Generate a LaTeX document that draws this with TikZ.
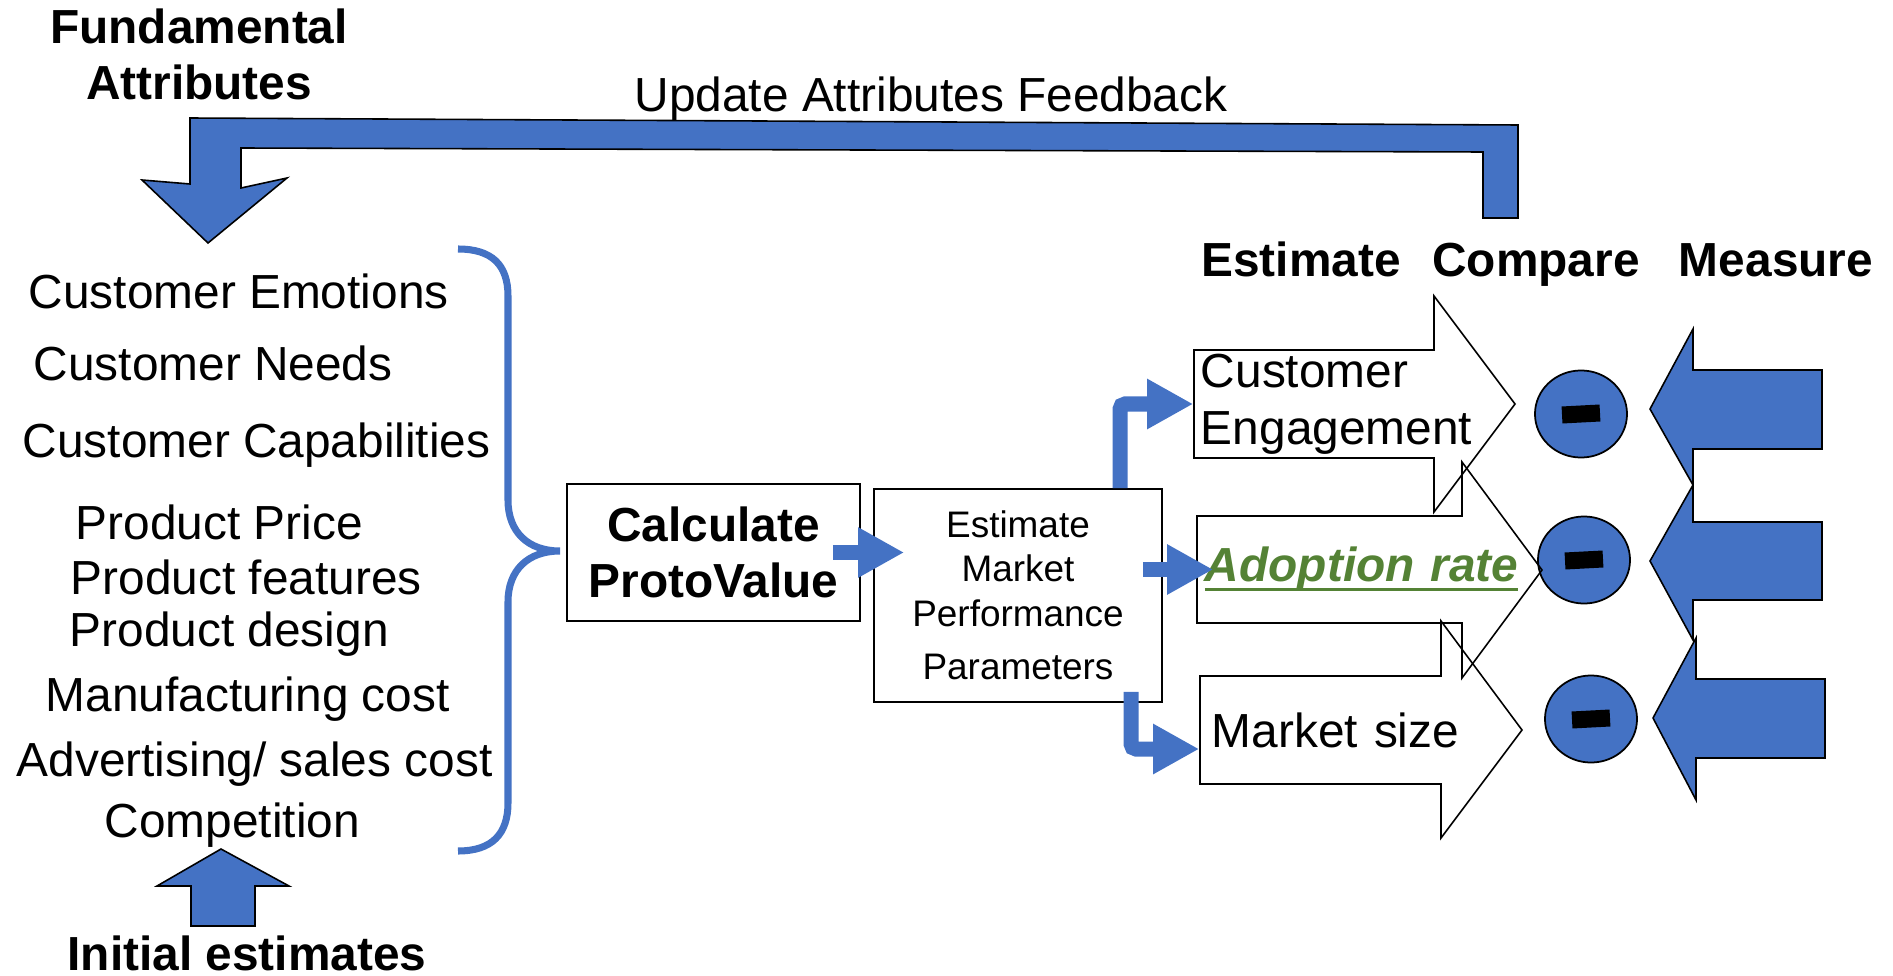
\documentclass[tikz,border=0pt]{standalone}
\usepackage{fontspec}
\setmainfont{Liberation Sans}
\usepackage{tikz}
\usetikzlibrary{arrows.meta, shapes.geometric, positioning}
\definecolor{officeblue}{HTML}{4472C4}
\definecolor{adoptgreen}{HTML}{548235}
\newcommand{\ulinetext}[1]{\setbox0\hbox{#1}\rlap{\rule[-0.09cm]{\wd0}{0.9pt}}\box0}
\tikzset{
  lbl/.style={inner sep=0pt, font=\fontsize{13.6}{16}\selectfont},
  attr/.style={lbl, anchor=base west},
  hdr/.style={lbl, anchor=base, font=\fontsize{13.6}{16}\selectfont\bfseries},
  box/.style={draw, line width=0.45pt, align=center, inner sep=0pt},
  body/.style={inner ysep=0pt, align=left, font=\fontsize{13.6}{16.2}\selectfont},
  outline/.style={draw, line width=0.45pt},
  bluearrow/.style={fill=officeblue, draw=black, line width=0.45pt},
  conn/.style={draw=officeblue, line width=0.15cm, rounded corners=0.05cm, -{Triangle[length=0.46cm, width=0.47cm]}},
  brace/.style={draw=officeblue, line width=2pt},
  cmp/.style={ellipse, draw, fill=officeblue, line width=0.5pt, minimum width=0.92cm, minimum height=0.87cm},
  minus/.style={fill=black, inner sep=0pt, minimum width=0.38cm, minimum height=0.17cm, rotate=3}
}
\begin{document}
\begin{tikzpicture}[x=0.01cm, y=-0.01cm]
                        \useasboundingbox (0,0) rectangle (1893,976);
                        \node[hdr] (fund) at (199, 44) {Fundamental};
                        \node[hdr] (attrs) at (199, 100) {Attributes};
                        \node[lbl, anchor=base] (upd) at (931, 112) {Update Attributes Feedback};
                        \draw[bluearrow] (190,118) -- (1518,125) -- (1518,218) -- (1483,218) -- (1483,152) -- (241,148) -- (241,188) -- (287,178) -- (208,243) -- (142,180) -- (190,184) -- cycle;
                        \node[attr] (emo) at (28, 308) {Customer Emotions};
                        \node[attr] (needs) at (33, 380) {Customer Needs};
                        \node[attr] (capab) at (22, 458) {Customer Capabilities};
                        \node[attr] (price) at (75, 539) {Product Price};
                        \node[attr] (feat) at (70, 594) {Product features};
                        \node[attr] (design) at (69, 646) {Product design};
                        \node[attr] (manuf) at (45, 711) {Manufacturing cost};
                        \node[attr] (adv) at (16, 776) {Advertising/ sales cost};
                        \node[attr] (compet) at (104, 837) {Competition};
                        \draw[brace] (458,249) .. controls (492,249) and (508,265) .. (508,296) -- (508,500) .. controls (508,532) and (528,551) .. (560,551) .. controls (528,551) and (508,570) .. (508,602) -- (508,803) .. controls (508,834) and (492,851) .. (458,851);
                        \draw[bluearrow] (221,849) -- (289,886) -- (255,886) -- (255,926) -- (191,926) -- (191,886) -- (157,886) -- cycle;
                        \node[hdr] (init) at (247, 970) {Initial estimates};
                        \node[box, minimum width=2.93cm, minimum height=1.37cm, font=\fontsize{13.6}{15.9}\selectfont\bfseries] (calc) at (713.5, 552.5) {Calculate\\ProtoValue};
                        \node[box, minimum width=2.88cm, minimum height=2.13cm, font=\fontsize{10.5}{12.66}\selectfont] (est) at (1018, 595.5) {Estimate\\Market\\Performance\\[0.09cm]Parameters};
                        \node[hdr] (esth) at (1301, 277) {Estimate};
                        \node[hdr] (cmph) at (1536, 277) {Compare};
                        \node[hdr] (meash) at (1776, 277) {Measure};
                        \node[cmp] (cmp1) at (1581, 414) {};
                        \node[cmp] (cmp2) at (1584, 560) {};
                        \node[cmp] (cmp3) at (1591, 719) {};
                        \node[minus] (bar1) at (cmp1) {};
                        \node[minus] (bar2) at (cmp2) {};
                        \node[minus] (bar3) at (cmp3) {};
                        \node[body, inner xsep=0.07cm, text width=2.25cm, minimum height=1.08cm] (engage) at (1313.5, 404) {Customer\\Engagement};
                        \node[body, inner xsep=0.08cm, text width=2.49cm, minimum height=1.07cm] (adopt) at (1329.5, 569.5) {\raisebox{-0.08cm}{\mbox{\color{adoptgreen}\bfseries\itshape\ulinetext{Adoption rate}}}};
                        \node[body, inner xsep=0.12cm, text width=2.17cm, minimum height=1.08cm] (msize) at (1320.5, 730) {\mbox{Market size}};
                        \draw[outline] (1194,350) -- (1434,350) -- (1434,296) -- (1515,404) -- (1434,512) -- (1434,458) -- (1194,458) -- cycle;
                        \draw[outline] (1197,516) -- (1462,516) -- (1462,462) -- (1542,570) -- (1462,678) -- (1462,623) -- (1197,623) -- cycle;
                        \draw[outline] (1200,676) -- (1441,676) -- (1441,621) -- (1522,730) -- (1441,838) -- (1441,784) -- (1200,784) -- cycle;
                        \draw[bluearrow] (1650,409) -- (1693,329) -- (1693,370) -- (1822,370) -- (1822,449) -- (1693,449) -- (1693,485) -- cycle;
                        \draw[bluearrow] (1650,561) -- (1693,485) -- (1693,522) -- (1822,522) -- (1822,600) -- (1693,600) -- (1693,640) -- cycle;
                        \draw[bluearrow] (1653,718) -- (1696,638) -- (1696,679) -- (1825,679) -- (1825,758) -- (1696,758) -- (1696,800) -- cycle;
                        \draw[conn, shorten <=-0.28cm, shorten >=-0.31cm] (calc.east) -- (calc.east -| est.west);
                        \draw[conn] ([xshift=1.02cm]est.north) |- (engage.west);
                        \draw[conn, shorten <=-0.2cm, shorten >=-0.17cm] (adopt.west -| est.east) -- (adopt.west);
                        \draw[conn] ([xshift=1.13cm, yshift=0.11cm]est.south) |- ([yshift=-0.19cm]msize.west);
                    \end{tikzpicture}
\end{document}
